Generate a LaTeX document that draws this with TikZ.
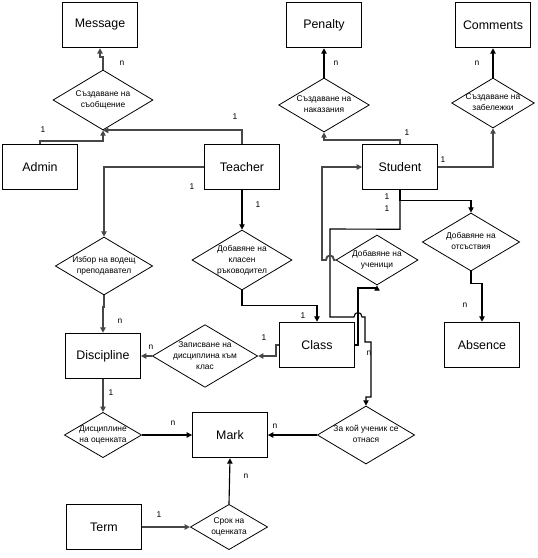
\documentclass[tikz,border=0pt]{standalone}
\usepackage{fontspec}
\setmainfont{Liberation Sans}
\usetikzlibrary{shapes.geometric,arrows.meta}
\newcommand{\reltext}[1]{\makebox[0pt]{\smash{\raisebox{-1.6pt}{\begin{tabular}{@{}c@{}}#1\end{tabular}}}}}
\tikzset{
  ent/.style={draw, line width=0.9pt, minimum width=56pt, minimum height=34pt, inner sep=0pt, font=\fontsize{9.3}{11}\selectfont},
  rel/.style={draw, diamond, line width=0.6pt, inner sep=0pt, font=\fontsize{6.3}{8.25}\selectfont},
  card/.style={inner sep=0pt, font=\fontsize{6.3}{7}\selectfont},
  tip/.style={-{Triangle[length=4pt,width=4pt]}},
  thk/.style={draw=black!72, line width=1.4pt, tip},
  thn/.style={draw=black, line width=0.85pt, tip}
}
\begin{document}
\begin{tikzpicture}[x=0.75pt,y=-0.75pt]
\fill[white] (0,0) rectangle (538,558);
\useasboundingbox (0,0) rectangle (538,558);
% entities
\node[ent] (msg) at (100,25) {Message};
\node[ent] (pen) at (324,25) {Penalty};
\node[ent] (com) at (493,25) {Comments};
\node[ent] (adm) at (40,167) {Admin};
\node[ent] (tea) at (242,167) {Teacher};
\node[ent] (stu) at (400,167) {Student};
\node[ent] (dis) at (103,356) {Discipline};
\node[ent] (cls) at (317,345) {Class};
\node[ent] (abs) at (482,345) {Absence};
\node[ent] (mrk) at (230,435) {Mark};
\node[ent] (trm) at (104,527) {Term};
% relations
\node[rel, minimum width=75pt, minimum height=45pt] (dmsg) at (103,100) {\reltext{Създаване на\\съобщение}};
\node[rel, minimum width=68pt, minimum height=40.5pt] (dnak) at (324,105) {\reltext{Създаване на\\наказания}};
\node[rel, minimum width=62pt, minimum height=37.5pt] (dzab) at (493,103) {\reltext{Създаване на\\забележки}};
\node[rel, minimum width=73pt, minimum height=43.5pt] (dizb) at (104,266) {\reltext{Избор на водещ\\преподавател}};
\node[rel, minimum width=75pt, minimum height=45pt] (dkls) at (242,260) {\reltext{Добавяне на\\класен\\ръководител}};
\node[rel, minimum width=61.5pt, minimum height=37.5pt] (duch) at (377,260) {\reltext{Добавяне на\\ученици}};
\node[rel, minimum width=73pt, minimum height=43.5pt] (dots) at (471,242) {\reltext{Добавяне на\\отсъствия}};
\node[rel, minimum width=79pt, minimum height=47pt] (dzap) at (205,356) {\reltext{Записване на\\дисциплина към\\клас}};
\node[rel, minimum width=58pt, minimum height=34pt] (ddm) at (103,435) {\reltext{Дисциплине\\на оценката}};
\node[rel, minimum width=73pt, minimum height=43.5pt] (dza) at (366,435) {\reltext{За кой ученик се\\отнася}};
\node[rel, minimum width=58pt, minimum height=34pt] (dsrk) at (229,527) {\reltext{Срок на\\оценката}};
% connectors
\draw[thk] (dmsg.north) -- ++(0,-13) -| (msg.south);
\draw[thk] (adm.north) -- ++(0,-3) -| (dmsg.south);
\draw[thk] (tea.north) |- (dmsg.south);
\draw[thk] (tea.west) -| (dizb.north);
\draw[thn] (tea.south) -- (dkls.north);
\draw[thk] (dizb.south) -- ++(0,12) -| (dis.north);
\draw[thn] (dkls.south) -- ++(0,15) -| (cls.north);
\draw[thk] (cls.west) -- ++(-3,0) |- (dzap.east);
\draw[thk] (dzap.west) -- (dis.east);
\draw[thk] (stu.north) -- ++(0,-4) -| (dnak.south);
\draw[thn] (dnak.north) -- (pen.south);
\draw[thk] (stu.east) -| (dzab.south);
\draw[thn] (dzab.north) -- (com.south);
\draw[thn] (stu.south) -- ++(0,10) -| (dots.north);
\draw[thn] (dots.south) -- ++(0,12) -| (abs.north);
\draw[thn] (stu.south) -- ++(0,39) -- (330,229) -- (330,317) -- (354,317)
  .. controls (354,311) and (362,311) .. (362,317) -- (365,317) -- (365,342)
  -- (371,342) -- (371,397) -- (366,397) -- (dza.north);
\draw[thn] (cls.east) -- ++(3,0) -- ++(0,-57) -| (duch.south);
\draw[thk] (duch.west) -- (334,260) .. controls (334,254) and (326,254) .. (326,260)
  -- (322,260) |- (stu.west);
\draw[thk] (dis.south) -- (ddm.north);
\draw[thn] (ddm.east) -- (mrk.west);
\draw[thn] (dza.west) -- (mrk.east);
\draw[thn] (dsrk.north) -- (mrk.south);
\draw[thk] (trm.east) -- (dsrk.west);
% cardinalities
\node[card] (c1) at (122,63) {n};
\node[card] (c2) at (43,130) {1};
\node[card] (c3) at (235,117) {1};
\node[card] (c4) at (192,187) {1};
\node[card] (c5) at (258,205) {1};
\node[card] (c6) at (120,321) {n};
\node[card] (c7) at (303,316) {1};
\node[card] (c8) at (264,338) {1};
\node[card] (c9) at (151,347) {n};
\node[card] (c10) at (407,133) {1};
\node[card] (c11) at (336,63) {n};
\node[card] (c12) at (477,63) {n};
\node[card] (c13) at (443,160) {1};
\node[card] (c14) at (387,197) {1};
\node[card] (c15) at (387,209) {1};
\node[card] (c16) at (465,305) {n};
\node[card] (c17) at (369,353) {n};
\node[card] (c18) at (111,393) {1};
\node[card] (c19) at (173,423) {n};
\node[card] (c20) at (275,426) {n};
\node[card] (c21) at (246,476) {n};
\node[card] (c22) at (159,515) {1};
\end{tikzpicture}
\end{document}
